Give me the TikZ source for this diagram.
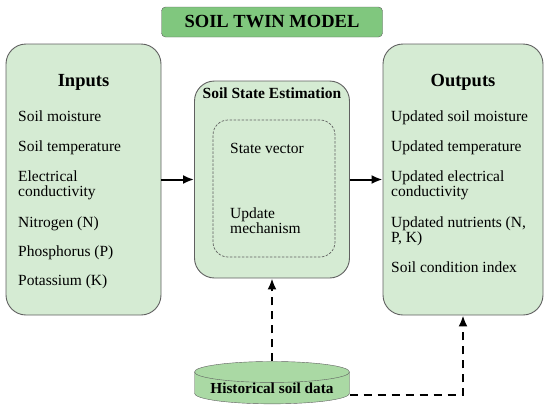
\documentclass[tikz,border=0pt]{standalone}
\usepackage{fontspec}
\setmainfont{Liberation Serif}
\usetikzlibrary{shapes.geometric,arrows.meta}
\definecolor{boxgreen}{HTML}{D5EBD3}
\definecolor{titlegreen}{HTML}{80C77E}
\definecolor{dbgreen}{HTML}{AAD9A4}
\definecolor{edgegray}{HTML}{606060}
\tikzset{
  panel/.style={draw=edgegray,fill=boxgreen,rounded corners=20pt,line width=.9pt},
  head/.style={font=\fontsize{18.5}{22}\selectfont\bfseries,anchor=base,inner sep=0pt},
  item/.style={font=\fontsize{15.5}{15}\selectfont,align=left,anchor=base west,inner sep=0pt},
  flow/.style={-{Latex[length=11pt,width=9pt]},line width=2pt},
  feed/.style={flow,dash pattern=on 8pt off 6pt}
}
\begin{document}
\begin{tikzpicture}[x=1pt,y=-1pt]
  \useasboundingbox (0,0) rectangle (550,408);
  \node[draw=edgegray,fill=titlegreen,rounded corners=4pt,minimum width=221pt,minimum height=30pt,
        font=\fontsize{18.5}{22}\selectfont\bfseries] (title) at (272,22) {SOIL TWIN MODEL};
  \node[panel,minimum width=155pt,minimum height=271pt] (in) at (83.5,179.5) {};
  \node[panel,minimum width=155pt,minimum height=197pt] (est) at (272,179.5) {};
  \node[panel,minimum width=160pt,minimum height=271pt] (out) at (463,179.5) {};
  \node[draw=edgegray,line width=.7pt,dash pattern=on 2.5pt off 1.5pt,rounded corners=15pt,minimum width=122pt,minimum height=137pt] (core) at (274,188.5) {};
  \node[head] (inhead) at (83.5,86) {Inputs};
  \node[head] (outhead) at (463,86) {Outputs};
  \node[item,anchor=base,font=\fontsize{15.5}{15}\selectfont\bfseries] (esthead) at (272,98) {Soil State Estimation};
  \foreach \yy/\txt in {121/Soil moisture,151/Soil temperature,196/Electrical\\conductivity,227/Nitrogen (N),256/Phosphorus (P),285/Potassium (K)}
    \node[item] (in\yy) at (18,\yy) {\txt};
  \foreach \yy/\txt in {121/Updated soil moisture,151/Updated temperature,196/Updated electrical\\conductivity,242/{Updated nutrients (N,\\P, K)},272/Soil condition index}
    \node[item] (out\yy) at (391,\yy) {\txt};
  \node[item] (vec) at (230,153) {State vector};
  \node[item] (upd) at (230,233) {Update\\mechanism};
  \node[cylinder,shape border rotate=90,aspect=.17,draw=edgegray,fill=dbgreen,minimum width=155pt,minimum height=42pt,
        inner sep=0pt,font=\fontsize{15.3}{18}\selectfont\bfseries] (hist) at (272,388) {Historical soil data};
  \draw[flow] (in.east) -- (est.west);
  \draw[flow] (est.east) -- (out.west);
  \draw[feed] (hist.north) -- (est.south);
  \draw[feed] ([yshift=-7pt]hist.east) -| (out.south);
\end{tikzpicture}
\end{document}
